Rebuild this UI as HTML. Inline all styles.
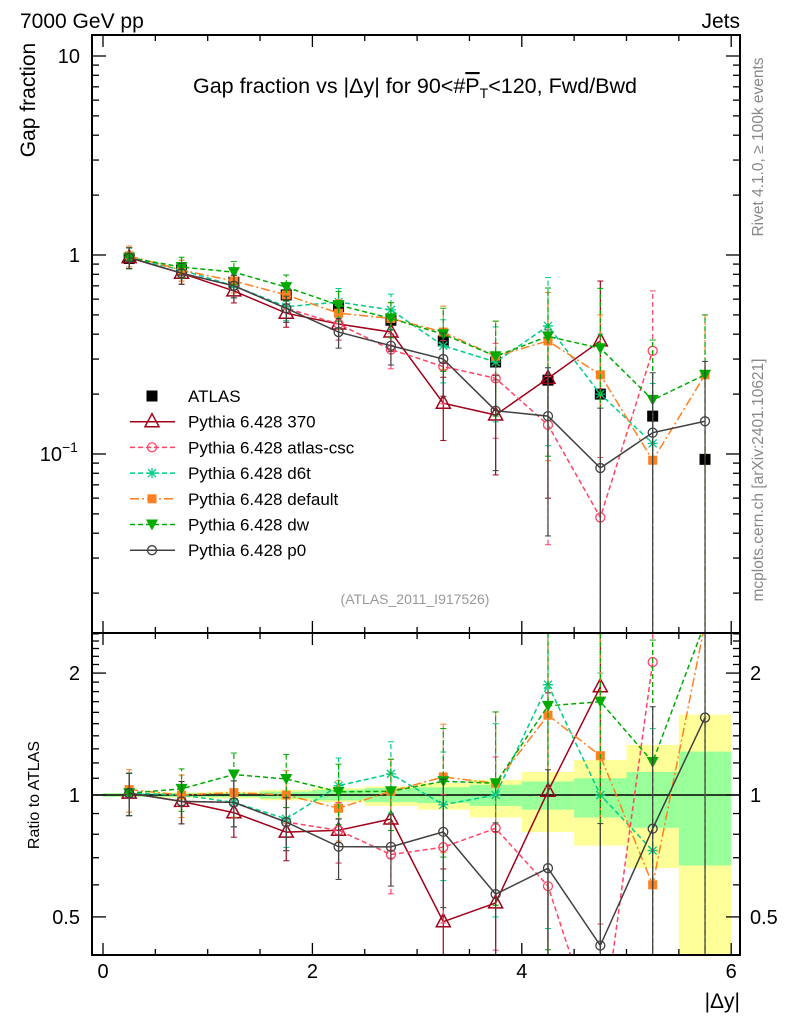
<!DOCTYPE html>
<html><head><meta charset="utf-8"><style>
html,body{margin:0;padding:0;background:#fff;overflow:hidden;width:786px;height:1024px;}
svg{display:block;font-family:"Liberation Sans",sans-serif;}
</style></head><body>
<svg id="c" width="786" height="1024" viewBox="0 0 786 1024" xmlns="http://www.w3.org/2000/svg">
<defs>
<clipPath id="topclip"><rect x="92" y="35" width="648" height="598"/></clipPath>
<clipPath id="botclip"><rect x="92" y="633" width="648" height="322"/></clipPath>
</defs>
<text x="20" y="28" font-size="21">7000 GeV pp</text>
<text x="740" y="28" font-size="21" text-anchor="end">Jets</text>
<text x="415" y="93" font-size="21.5" text-anchor="middle">Gap fraction vs |Δy| for 90&lt;#<tspan text-decoration="overline">P</tspan><tspan font-size="14" dy="5">T</tspan><tspan dy="-5">&lt;120, Fwd/Bwd</tspan></text>
<text x="415" y="604" font-size="14" fill="#999" text-anchor="middle">(ATLAS_2011_I917526)</text>
<text transform="translate(35,100) rotate(-90)" font-size="21" text-anchor="middle">Gap fraction</text>
<text transform="translate(39,795) rotate(-90)" font-size="16" text-anchor="middle">Ratio to ATLAS</text>
<text x="740" y="1008" font-size="21" text-anchor="end">|Δy|</text>
<text transform="translate(763,147) rotate(-90)" font-size="15.5" fill="#888" text-anchor="middle">Rivet 4.1.0, ≥ 100k events</text>
<text transform="translate(763,480) rotate(-90)" font-size="15.5" fill="#888" text-anchor="middle">mcplots.cern.ch [arXiv:2401.10621]</text>
<g id="bands" clip-path="url(#botclip)"></g>
<g id="top" clip-path="url(#topclip)"></g>
<g id="bot" clip-path="url(#botclip)"></g>
<g id="axes"></g>
<g id="legend"></g>
</svg>
<script>
const xCenters=[0.25,0.75,1.25,1.75,2.25,2.75,3.25,3.75,4.25,4.75,5.25,5.75];
const atlas=[0.96,0.84,0.73,0.63,0.55,0.47,0.37,0.29,0.235,0.20,0.155,0.094];
const bandStatUp=[0.01,0.01,0.012,0.02,0.03,0.04,0.045,0.06,0.08,0.10,0.14,0.28];
const bandStatDn=[0.01,0.01,0.012,0.02,0.03,0.04,0.045,0.06,0.08,0.12,0.17,0.33];
const bandTotUp=[0.01,0.015,0.02,0.03,0.04,0.05,0.07,0.09,0.14,0.22,0.33,0.58];
const bandTotDn=[0.01,0.015,0.02,0.03,0.04,0.06,0.08,0.12,0.19,0.25,0.34,0.7];
const mcErr=[0.12,0.12,0.13,0.15,0.17,0.2,0.35,0.5,0.75,1.0,1.0,1.0];
const s370=[0.97,0.81,0.66,0.51,0.45,0.41,0.18,0.157,0.24,0.37,null,null];
const sCsc=[0.97,0.81,0.70,0.54,0.45,0.335,0.275,0.24,0.14,0.048,0.33,null];
const sD6t=[0.97,0.84,0.70,0.55,0.58,0.53,0.35,0.29,0.44,0.20,0.113,null];
const sDef=[0.99,0.84,0.74,0.63,0.51,0.48,0.41,0.31,0.37,0.25,0.093,0.25];
const sDw=[0.97,0.87,0.82,0.69,0.56,0.48,0.40,0.31,0.39,0.34,0.187,0.25];
const sP0=[0.97,0.81,0.70,0.54,0.41,0.35,0.30,0.165,0.155,0.085,0.128,0.146];
const legendLabels=["ATLAS","Pythia 6.428 370","Pythia 6.428 atlas-csc","Pythia 6.428 d6t","Pythia 6.428 default","Pythia 6.428 dw","Pythia 6.428 p0"];

const NS="http://www.w3.org/2000/svg";
const X=v=>103+104.7*v;
const Y=v=>255-199*Math.log10(v);
const R=v=>795-405*Math.log10(v);
function el(tag,attrs,parent){const e=document.createElementNS(NS,tag);for(const k in attrs)e.setAttribute(k,attrs[k]);parent.appendChild(e);return e;}
const gTop=document.getElementById('top'),gBot=document.getElementById('bot'),gBands=document.getElementById('bands'),gAx=document.getElementById('axes'),gLeg=document.getElementById('legend');

for(let i=0;i<xCenters.length;i++){
  const x0=X(xCenters[i]-0.25),x1=X(xCenters[i]+0.25);
  const yb=el('rect',{x:x0,y:R(1+bandTotUp[i]),width:x1-x0,height:R(Math.max(1-bandTotDn[i],0.01))-R(1+bandTotUp[i]),fill:'#ffff99'},gBands);
  
  
  const gb=el('rect',{x:x0,y:R(1+bandStatUp[i]),width:x1-x0,height:R(1-bandStatDn[i])-R(1+bandStatUp[i]),fill:'#99ff99'},gBands);
  
  
}
el('line',{x1:92,x2:740,y1:R(1),y2:R(1),stroke:'#000','stroke-width':1.5},gBands);

const series=[
 {name:'370',d:s370,c:'#a00018',dash:'',m:'tri'},
 {name:'atlas-csc',d:sCsc,c:'#ff4466',dash:'5,3',m:'ocirc'},
 {name:'d6t',d:sD6t,c:'#00cc88',dash:'5,3',m:'star'},
 {name:'default',d:sDef,c:'#ff8020',dash:'9,3,2,3',m:'sq'},
 {name:'dw',d:sDw,c:'#00aa00',dash:'5,3',m:'dtri'},
 {name:'p0',d:sP0,c:'#404040',dash:'',m:'ocirc'}
];
function marker(m,x,y,c,g,name){
  let e;
  if(m==='tri')e=el('path',{d:`M${x},${y-8}L${x+7},${y+5}L${x-7},${y+5}Z`,fill:'#fff','fill-opacity':0,stroke:c,'stroke-width':1.5},g);
  else if(m==='ocirc')e=el('circle',{cx:x,cy:y,r:4.5,fill:'none',stroke:c,'stroke-width':1.3},g);
  else if(m==='sq')e=el('rect',{x:x-4.5,y:y-4.5,width:9,height:9,fill:c},g);
  else if(m==='bsq')e=el('rect',{x:x-5.5,y:y-5.5,width:11,height:11,fill:'#000'},g);
  else if(m==='dtri')e=el('path',{d:`M${x-6},${y-5}L${x+6},${y-5}L${x},${y+6}Z`,fill:c},g);
  else if(m==='star')e=el('path',{d:`M${x-5},${y}H${x+5}M${x},${y-5}V${y+5}M${x-4},${y-4}L${x+4},${y+4}M${x-4},${y+4}L${x+4},${y-4}`,stroke:c,'stroke-width':1.3},g);
  
  
}
function drawSeries(s,g,yf,ratio){
  let pts=[];
  s.d.forEach((v,i)=>{
    if(v==null)return;
    const val=ratio?v/atlas[i]:v;
    const x=X(xCenters[i]),y=yf(val);
    const lo=Math.max(val*(1-mcErr[i]),1e-4),hi=val*(1+mcErr[i]);
    el('line',{x1:x,x2:x,y1:yf(lo),y2:yf(hi),stroke:s.c,'stroke-width':1.2,'stroke-dasharray':s.dash},g);
    el('line',{x1:x-3,x2:x+3,y1:yf(hi),y2:yf(hi),stroke:s.c,'stroke-width':1},g);
    el('line',{x1:x-3,x2:x+3,y1:yf(lo),y2:yf(lo),stroke:s.c,'stroke-width':1},g);
    pts.push([x,y]);
  });
  const p=el('polyline',{points:pts.map(q=>q.join(',')).join(' '),fill:'none',stroke:s.c,'stroke-width':1.5,'stroke-dasharray':s.dash},g);
  
  
  pts.forEach(q=>marker(s.m,q[0],q[1],s.c,g,'point-'+s.name));
}
atlas.forEach((v,i)=>{
  const x=X(xCenters[i]);
  el('line',{x1:x,x2:x,y1:Y(v*0.93),y2:Y(v*1.07),stroke:'#000','stroke-width':1.2},gTop);
  marker('bsq',x,Y(v),'#000',gTop,'atlas-point');
});
series.forEach(s=>{drawSeries(s,gTop,Y,false);drawSeries(s,gBot,R,true);});

[[35,598],[633,322]].forEach(([y,h])=>el('rect',{x:92,y:y,width:648,height:h,fill:'none',stroke:'#000','stroke-width':2},gAx));
for(let v=0;v<=6.001;v+=0.5){
  const x=X(v),major=Math.abs(v-Math.round(v/2)*2)<1e-6;
  const L=major?12:6;
  [[35,1],[633,1],[633,-1],[955,-1]].forEach(([y0,d])=>el('line',{x1:x,x2:x,y1:y0,y2:y0+d*L,stroke:'#000','stroke-width':1.3},gAx));
  if(major){const t=el('text',{x:x,y:978,'font-size':20,'text-anchor':'middle'},gAx);t.textContent=String(v);}
}
for(let e=-2;e<=1;e++){for(let k=1;k<10;k++){const v=k*Math.pow(10,e);const y=Y(v);if(y<35||y>633)continue;const L=k===1?14:7;
  el('line',{x1:92,x2:92+L,y1:y,y2:y,stroke:'#000','stroke-width':1.3},gAx);el('line',{x1:740,x2:740-L,y1:y,y2:y,stroke:'#000','stroke-width':1.3},gAx);}}
[['10',10],['1',1]].forEach(([t,v])=>{const e=el('text',{x:80,y:Y(v)+7,'font-size':20,'text-anchor':'end'},gAx);e.textContent=t;});
{const e=el('text',{x:62,y:Y(0.1)+7,'font-size':20,'text-anchor':'end'},gAx);e.textContent='10';const s=el('text',{x:62,y:Y(0.1)-2,'font-size':14},gAx);s.textContent='−1';}
for(let k=4;k<=25;k++){const v=k/10;const y=R(v);if(y<633||y>955)continue;const L=(v===0.5||v===1||v===2)?14:7;
  el('line',{x1:92,x2:92+L,y1:y,y2:y,stroke:'#000','stroke-width':1.3},gAx);el('line',{x1:740,x2:740-L,y1:y,y2:y,stroke:'#000','stroke-width':1.3},gAx);}
[['2',2],['1',1],['0.5',0.5]].forEach(([t,v])=>{const e=el('text',{x:80,y:R(v)+7,'font-size':20,'text-anchor':'end'},gAx);e.textContent=t;const f=el('text',{x:750,y:R(v)+7,'font-size':20},gAx);f.textContent=t;});

const legMarks=[{m:'bsq',c:'#000',dash:''}].concat(series);
legMarks.forEach((s,i)=>{
  const y=396+25.7*i;
  const g=el('g',{},gLeg);
  
  
  if(i>0){el('line',{x1:130,x2:175,y1:y,y2:y,stroke:s.c,'stroke-width':1.5,'stroke-dasharray':s.dash},g);}
  marker(s.m,152,y,s.c,g,'legend-marker');
  const t=el('text',{x:188,y:y+6,'font-size':17},g);t.textContent=legendLabels[i];
});
</script>
</body></html>
